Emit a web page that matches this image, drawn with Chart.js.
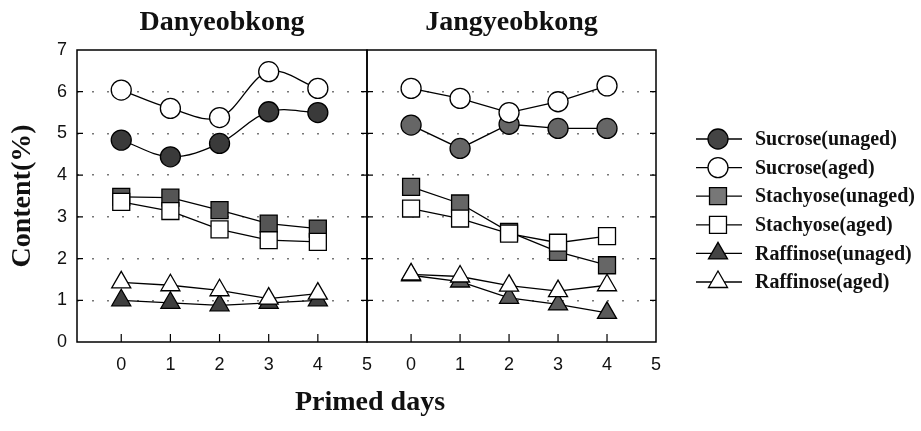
<!DOCTYPE html>
<html>
<head>
<meta charset="utf-8">
<script src="https://cdn.jsdelivr.net/npm/chart.js@4.4.0/dist/chart.umd.min.js"></script>
<style>
  body { margin: 0; background: #fff; }
  #wrap { position: relative; width: 921px; height: 431px; }
  canvas { position: absolute; left: 0; top: 0; }
</style>
</head>
<body>
<div id="wrap">
  <canvas id="left" width="921" height="431"></canvas>
  <canvas id="right" width="921" height="431"></canvas>
</div>
<script>
// primed days and tick labels
const days = [0, 1, 2, 3, 4];
const dayTicks = [0, 1, 2, 3, 4, 5];
const contentTicks = [0, 1, 2, 3, 4, 5, 6, 7];
const seriesNames = ['Sucrose(unaged)', 'Sucrose(aged)', 'Stachyose(unaged)', 'Stachyose(aged)', 'Raffinose(unaged)', 'Raffinose(aged)'];

// Danyeobkong
const danSucroseUnaged   = [4.84, 4.44, 4.76, 5.52, 5.50];
const danSucroseAged     = [6.04, 5.60, 5.38, 6.48, 6.08];
const danStachyoseUnaged = [3.48, 3.46, 3.16, 2.84, 2.72];
const danStachyoseAged   = [3.36, 3.14, 2.70, 2.44, 2.40];
const danRaffinoseUnaged = [1.00, 0.94, 0.88, 0.94, 1.00];
const danRaffinoseAged   = [1.43, 1.36, 1.24, 1.04, 1.16];

// Jangyeobkong
const jangSucroseUnaged   = [5.20, 4.64, 5.22, 5.12, 5.12];
const jangSucroseAged     = [6.08, 5.84, 5.50, 5.76, 6.14];
const jangStachyoseUnaged = [3.72, 3.32, 2.64, 2.16, 1.84];
const jangStachyoseAged   = [3.20, 2.96, 2.60, 2.38, 2.54];
const jangRaffinoseUnaged = [1.60, 1.45, 1.06, 0.90, 0.70];
const jangRaffinoseAged   = [1.62, 1.57, 1.35, 1.22, 1.36];

const shapes = ['circle', 'circle', 'rect', 'rect', 'triangle', 'triangle'];
const radii = [10, 10, 12, 12, 11, 11];
const SERIF = '"Liberation Serif", "DejaVu Serif", serif';
const SANS = '"Liberation Sans", Arial, sans-serif';

function makeSets(values, fills, tensions) {
    return values.map((vals, i) => ({
        label: seriesNames[i],
        data: days.map((d, j) => ({x: d, y: vals[j]})),
        order: i % 2 === 0 ? 1 : 0,   // aged markers sit on top
        pointStyle: shapes[i],
        pointRadius: radii[i],
        pointBackgroundColor: fills[i],
        pointBorderColor: '#000',
        pointBorderWidth: 1.3,
        borderColor: '#000',
        borderWidth: 1.3,
        tension: tensions[i],
        fill: false
    }));
}

// frame, inward ticks and panel title
const panelPlugin = {
    id: 'panel',
    beforeDatasetsDraw(chart, args, opts) {
        const {ctx, chartArea: a, scales} = chart;
        ctx.save();
        ctx.strokeStyle = '#000';
        ctx.lineWidth = 1.5;
        ctx.strokeRect(a.left, a.top, a.right - a.left, a.bottom - a.top);
        ctx.lineWidth = 1.2;
        ctx.beginPath();
        contentTicks.slice(1, -1).forEach(v => {
            const y = scales.y.getPixelForValue(v);
            ctx.moveTo(a.left, y); ctx.lineTo(a.left + 6, y);
            ctx.moveTo(a.right, y); ctx.lineTo(a.right - 6, y);
        });
        days.forEach(d => {
            const x = scales.x.getPixelForValue(d);
            ctx.moveTo(x, a.bottom); ctx.lineTo(x, a.bottom - 8);
        });
        ctx.stroke();
        ctx.restore();
    },
    afterDraw(chart, args, opts) {
        const {ctx, chartArea: a} = chart;
        ctx.save();
        ctx.fillStyle = '#111';
        ctx.font = 'bold 28px ' + SERIF;
        ctx.textAlign = 'center';
        ctx.textBaseline = 'middle';
        ctx.fillText(opts.title, (a.left + a.right) / 2, 23);
        if (opts.xTitle) ctx.fillText(opts.xTitle, 370, 403);
        ctx.restore();
    }
};

// legend with a line through each marker
const legendPlugin = {
    id: 'sideLegend',
    afterDraw(chart, args, opts) {
        if (!opts.show) return;
        const {ctx} = chart;
        ctx.save();
        seriesNames.forEach((name, i) => {
            const y = 139 + i * 28.6;
            const cx = 718;
            ctx.strokeStyle = '#000';
            ctx.lineWidth = 1.3;
            ctx.beginPath();
            ctx.moveTo(696, y); ctx.lineTo(742, y);
            ctx.stroke();
            ctx.fillStyle = opts.fills[i];
            ctx.beginPath();
            const r = radii[i];
            if (shapes[i] === 'circle') {
                ctx.arc(cx, y, r, 0, Math.PI * 2);
            } else if (shapes[i] === 'rect') {
                const s = r / Math.SQRT2;
                ctx.rect(cx - s, y - s, 2 * s, 2 * s);
            } else {
                ctx.moveTo(cx, y - r);
                ctx.lineTo(cx + r * 0.866, y + r / 2);
                ctx.lineTo(cx - r * 0.866, y + r / 2);
                ctx.closePath();
            }
            ctx.fill();
            ctx.stroke();
            ctx.fillStyle = '#111';
            ctx.font = 'bold 20px ' + SERIF;
            ctx.textBaseline = 'middle';
            ctx.fillText(name, 755, y + 1);
        });
        ctx.restore();
    }
};

function xScale() {
    return {
        type: 'linear',
        min: -0.9,
        max: 5,
        afterBuildTicks: s => { s.ticks = dayTicks.map(v => ({value: v})); },
        afterFit: s => { s.height = 89; },
        grid: {display: false, drawTicks: false},
        border: {display: false},
        ticks: {color: '#111', font: {family: SANS, size: 18}, padding: 12}
    };
}

function yScale(showLabels) {
    return {
        type: 'linear',
        min: 0,
        max: 7,
        afterBuildTicks: s => { s.ticks = contentTicks.map(v => ({value: v})); },
        afterFit: s => { s.width = showLabels ? 77 : 0; },
        grid: {
            drawTicks: false,
            color: c => (c.tick && (c.tick.value === 0 || c.tick.value === 7)) ? 'rgba(0,0,0,0)' : '#777',
            lineWidth: 1.4
        },
        border: {display: false, dash: [2, 13]},
        ticks: {display: showLabels, color: '#111', font: {family: SANS, size: 18}, padding: 10},
        title: {display: showLabels, text: 'Content(%)', color: '#111',
                font: {family: SERIF, size: 28, weight: 'bold'}, padding: {top: 6, bottom: 0}}
    };
}

const leftFills = ['#3a3a3a', '#ffffff', '#555555', '#ffffff', '#3f3f3f', '#ffffff'];
const rightFills = ['#666666', '#ffffff', '#666666', '#ffffff', '#5a5a5a', '#ffffff'];
const legendFills = ['#444444', '#ffffff', '#777777', '#ffffff', '#444444', '#ffffff'];

new Chart(document.getElementById('left'), {
    type: 'line',
    data: {datasets: makeSets(
        [danSucroseUnaged, danSucroseAged, danStachyoseUnaged, danStachyoseAged, danRaffinoseUnaged, danRaffinoseAged],
        leftFills, [0.35, 0.35, 0, 0, 0, 0])},
    options: {
        responsive: false,
        animation: false,
        layout: {padding: {top: 50, left: 0, right: 554, bottom: 0}},
        scales: {x: xScale(), y: yScale(true)},
        plugins: {
            legend: {display: false},
            tooltip: {enabled: false},
            panel: {title: 'Danyeobkong', xTitle: 'Primed days'},
            sideLegend: {show: false}
        }
    },
    plugins: [panelPlugin, legendPlugin]
});

new Chart(document.getElementById('right'), {
    type: 'line',
    data: {datasets: makeSets(
        [jangSucroseUnaged, jangSucroseAged, jangStachyoseUnaged, jangStachyoseAged, jangRaffinoseUnaged, jangRaffinoseAged],
        rightFills, [0, 0, 0, 0, 0, 0])},
    options: {
        responsive: false,
        animation: false,
        layout: {padding: {top: 50, left: 367, right: 265, bottom: 0}},
        scales: {x: xScale(), y: yScale(false)},
        plugins: {
            legend: {display: false},
            tooltip: {enabled: false},
            panel: {title: 'Jangyeobkong'},
            sideLegend: {show: true, fills: legendFills}
        }
    },
    plugins: [panelPlugin, legendPlugin]
});
</script>
</body>
</html>
